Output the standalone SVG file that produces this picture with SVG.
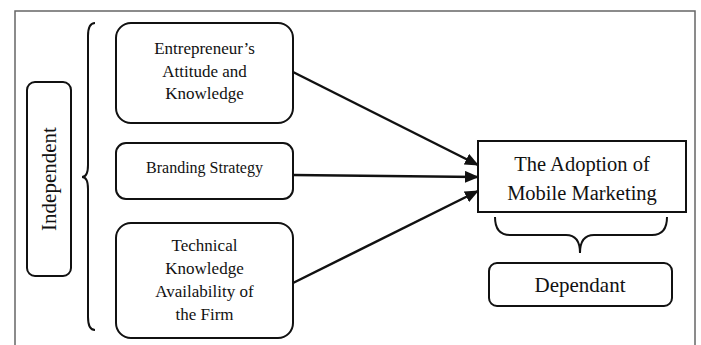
<svg xmlns="http://www.w3.org/2000/svg" width="701" height="345" viewBox="0 0 701 345">
<defs>
<style>
.box{fill:#fff;stroke:#111;stroke-width:2}
.t{font-family:"Liberation Serif","Times New Roman",serif;fill:#111;text-anchor:middle}
.conn{stroke:#111;stroke-width:2.5;fill:none}
.brace{stroke:#111;stroke-width:2;fill:none}
</style>
<marker id="ah" markerWidth="14" markerHeight="12" refX="13" refY="6" orient="auto" markerUnits="userSpaceOnUse">
<path d="M0,0 L14,6 L0,12 Z" fill="#111"/>
</marker>
</defs>
<rect x="0" y="0" width="701" height="345" fill="#fff"/>
<rect x="15" y="11" width="680" height="345" fill="none" stroke="#666" stroke-width="1.5"/>
<g id="independent">
<rect class="box" x="27" y="82" width="44" height="194" rx="8"/>
<text class="t" font-size="21" transform="translate(56,179) rotate(-90)">Independent</text>
</g>
<g id="brace-left">
<path class="brace" d="M95,23 Q88,23 88,36 L88,165 Q88,177 82,177 Q88,177 88,189 L88,317 Q88,330 95,330"/>
</g>
<g id="n1">
<rect class="box" x="116" y="23" width="177" height="100" rx="15"/>
<text class="t" font-size="17" x="204.5" y="54">Entrepreneur’s</text>
<text class="t" font-size="17" x="204.5" y="77">Attitude and</text>
<text class="t" font-size="17" x="204.5" y="99">Knowledge</text>
</g>
<g id="n2">
<rect class="box" x="116" y="143" width="177" height="56" rx="10"/>
<text class="t" font-size="16" x="204.5" y="173">Branding Strategy</text>
</g>
<g id="n3">
<rect class="box" x="116" y="223" width="177" height="115" rx="15"/>
<text class="t" font-size="17" x="204.5" y="251">Technical</text>
<text class="t" font-size="17" x="204.5" y="274">Knowledge</text>
<text class="t" font-size="17" x="204.5" y="297">Availability of</text>
<text class="t" font-size="17" x="204.5" y="320">the Firm</text>
</g>
<g id="target">
<rect x="478" y="141" width="208" height="71" fill="#fff" stroke="#111" stroke-width="2"/>
<text class="t" font-size="20.5" x="582" y="171">The Adoption of</text>
<text class="t" font-size="20.5" x="582" y="200">Mobile Marketing</text>
</g>
<g id="brace-bottom">
<path class="brace" d="M495,217 Q495,235 510,235 L566,235 Q580,235 580,253 Q580,235 594,235 L652,235 Q667,235 667,217"/>
</g>
<g id="dependant">
<rect class="box" x="489" y="263" width="183" height="43" rx="8"/>
<text class="t" font-size="21" x="580" y="292">Dependant</text>
</g>
<g id="connectors">
<line class="conn" x1="293" y1="72" x2="478" y2="165" marker-end="url(#ah)"/>
<line class="conn" x1="293" y1="175" x2="478" y2="177" marker-end="url(#ah)"/>
<line class="conn" x1="293" y1="283" x2="478" y2="191" marker-end="url(#ah)"/>
</g>
</svg>
